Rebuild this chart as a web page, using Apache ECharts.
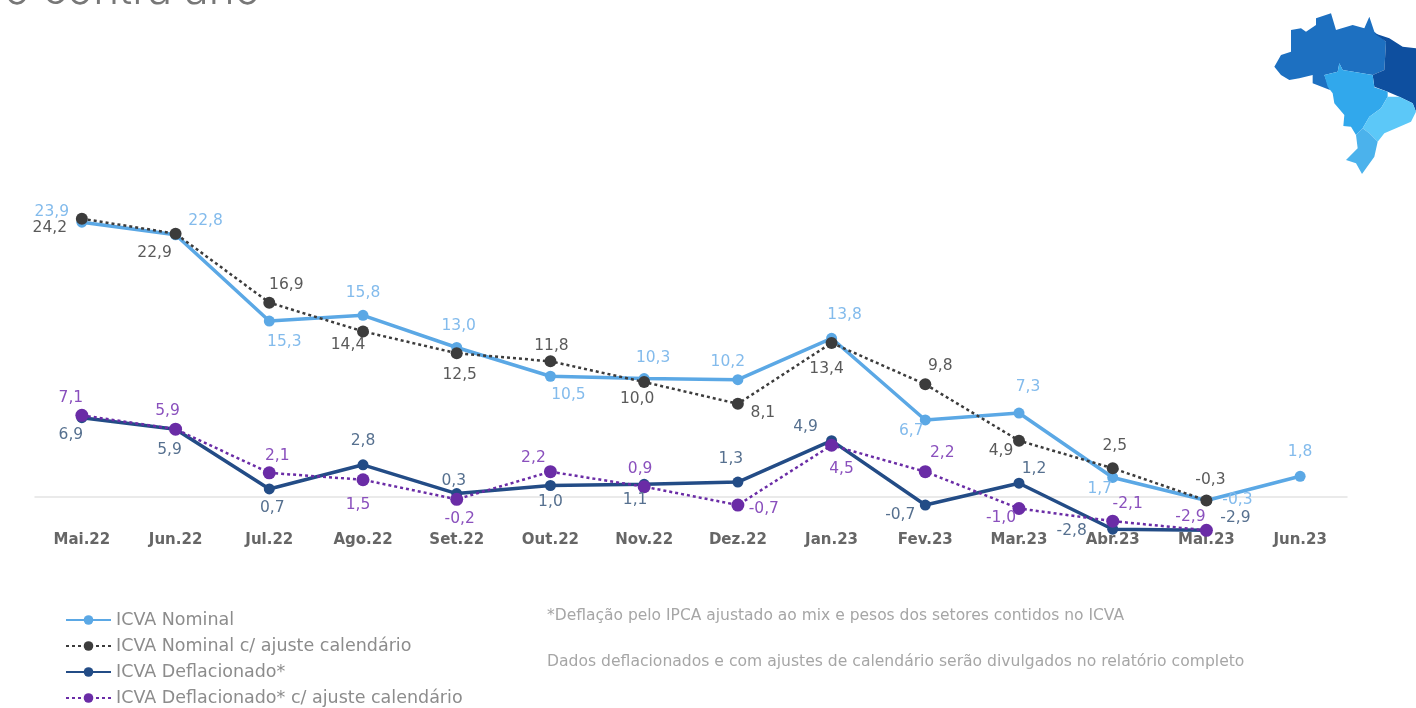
<!DOCTYPE html>
<html>
<head>
<meta charset="utf-8">
<title>ICVA</title>
<style>html,body{margin:0;padding:0;background:#fff}#chart{width:1416px;height:708px}</style>
<script src="https://cdn.jsdelivr.net/npm/echarts@6/dist/echarts.min.js"></script>
</head>
<body>
<div id="chart"></div>
<script>
// Monthly categories
const months = ['Mai.22','Jun.22','Jul.22','Ago.22','Set.22','Out.22','Nov.22','Dez.22','Jan.23','Fev.23','Mar.23','Abr.23','Mai.23','Jun.23'];

// Series values (% year over year)
const nominal = [23.9,22.8,15.3,15.8,13.0,10.5,10.3,10.2,13.8,6.7,7.3,1.7,-0.3,1.8];
const nominalAdjusted = [24.2,22.9,16.9,14.4,12.5,11.8,10.0,8.1,13.4,9.8,4.9,2.5,-0.3,null];
const deflated = [6.9,5.9,0.7,2.8,0.3,1.0,1.1,1.3,4.9,-0.7,1.2,-2.8,-2.9,null];
const deflatedAdjusted = [7.1,5.9,2.1,1.5,-0.2,2.2,0.9,-0.7,4.5,2.2,-1.0,-2.1,-2.9,null];

// Hand-placed label offsets, one per point, so the labels do not collide
const nominalOffsets = [[-30,-10],[30,-14],[15,21],[0,-22],[2,-22],[18,19],[9,-21],[-10,-18],[13,-23],[-14,11],[9,-26],[-13,12],[31,0],[0,-24]];
const nominalAdjustedOffsets = [[-32,9],[-21,19],[17,-18],[-15,14],[3,22],[1,-15],[-7,17],[25,9],[-5,26],[15,-18],[-18,10],[2,-22],[4,-20],[0,0]];
const deflatedOffsets = [[-11,17],[-6,21],[3,19],[0,-24],[-3,-13],[0,16],[-9,16],[-7,-23],[-26,-14],[-25,10],[15,-14],[-41,2],[29,-12],[0,0]];
const deflatedAdjustedOffsets = [[-11,-17],[-8,-18],[8,-17],[-5,25],[3,20],[-17,-14],[-4,-18],[26,4],[10,24],[17,-19],[-18,9],[15,-17],[-16,-13],[0,0]];

const FONT = '"DejaVu Sans", sans-serif';

function makeSeries(name, values, offsets, color, labelColor, lineType, width, size) {
  return {
    name, type: 'line',
    data: values.map((v, i) => ({ value: v, label: { offset: offsets[i] } })),
    symbol: 'circle', symbolSize: size, showSymbol: true,
    lineStyle: { color, width, type: lineType },
    itemStyle: { color },
    connectNulls: false,
    animation: false,
    label: {
      show: true, position: 'inside', color: labelColor,
      fontFamily: FONT, fontSize: 15.5,
      formatter: p => p.value == null ? '' : p.value.toFixed(1).replace('.', ',')
    }
  };
}

const series = [
  makeSeries('ICVA Nominal', nominal, nominalOffsets, '#5ba8e5', '#83bbec', 'solid', 3.5, 11),
  makeSeries('ICVA Nominal c/ ajuste calendário', nominalAdjusted, nominalAdjustedOffsets, '#3c3c3c', '#5a5a5a', [3, 3], 2.5, 12),
  makeSeries('ICVA Deflacionado*', deflated, deflatedOffsets, '#234c86', '#56708f', 'solid', 3.5, 11),
  makeSeries('ICVA Deflacionado* c/ ajuste calendário', deflatedAdjusted, deflatedAdjustedOffsets, '#6a2ca6', '#8a50bd', [3, 3], 2.5, 13)
];

// Simplified outline of Brazil by region, in local corner-logo units
const regions = [
  { fill: '#1d70c1', pts: [[55,200],[75,165],[105,155],[105,90],[135,85],[150,95],[180,75],[180,55],[225,40],[240,90],[290,75],[325,85],[340,50],[355,95],[390,125],[385,210],[350,225],[260,210],[250,190],[245,215],[205,225],[222,270],[170,250],[170,225],[130,235],[100,240],[75,225]] },
  { fill: '#0e4f9f', pts: [[355,100],[400,115],[440,140],[480,145],[480,335],[470,310],[430,290],[395,275],[355,260],[350,225],[385,210],[390,125]] },
  { fill: '#31a8ec', pts: [[205,225],[245,215],[250,190],[260,210],[350,225],[355,262],[395,275],[395,290],[375,325],[340,350],[320,385],[300,405],[285,380],[262,378],[265,345],[235,310],[230,280],[215,260]] },
  { fill: '#5cc8f8', pts: [[395,290],[430,290],[470,310],[480,335],[465,365],[420,385],[385,400],[365,425],[340,400],[320,385],[340,350],[375,325]] },
  { fill: '#4bb2ec', pts: [[300,405],[320,385],[340,400],[365,425],[355,470],[318,522],[300,490],[270,480],[305,445]] }
];

const chart = echarts.init(document.getElementById('chart'), null, { renderer: 'canvas' });
chart.setOption({
  backgroundColor: '#ffffff',
  animation: false,
  grid: { left: 35, right: 69, top: 209.5, height: 322 },
  xAxis: {
    type: 'category', data: months, boundaryGap: true,
    axisTick: { show: false },
    axisLine: { show: true, onZero: true, lineStyle: { color: '#e4e4e4', width: 1.5 } },
    axisLabel: { color: '#666666', fontFamily: FONT, fontSize: 15, fontWeight: 'bold', margin: 1, interval: 0 }
  },
  yAxis: { type: 'value', min: -3, max: 25, show: false, splitLine: { show: false } },
  legend: {
    orient: 'vertical', left: 65, top: 611, padding: 0, height: 97,
    itemWidth: 45, itemHeight: 12, itemGap: 8,
    textStyle: { color: '#8c8c8c', fontFamily: FONT, fontSize: 17.5 },
    data: series.map(s => s.name)
  },
  series,
  graphic: [
    { type: 'text', left: 4, top: -31, style: { text: 'o contra ano', fill: '#777777', font: '300 44px Inter, sans-serif' } },
    { type: 'text', left: 547, top: 608, style: { text: '*Deflação pelo IPCA ajustado ao mix e pesos dos setores contidos no ICVA', fill: '#a6a6a6', font: '15.5px ' + FONT } },
    { type: 'text', left: 547, top: 654, style: { text: 'Dados deflacionados e com ajustes de calendário serão divulgados no relatório completo', fill: '#a6a6a6', font: '15.6px ' + FONT } },
    ...regions.map(r => ({
      type: 'polygon', x: 1256, y: 0, scaleX: 1 / 3, scaleY: 1 / 3,
      shape: { points: r.pts }, style: { fill: r.fill }
    }))
  ]
});
</script>
</body>
</html>
